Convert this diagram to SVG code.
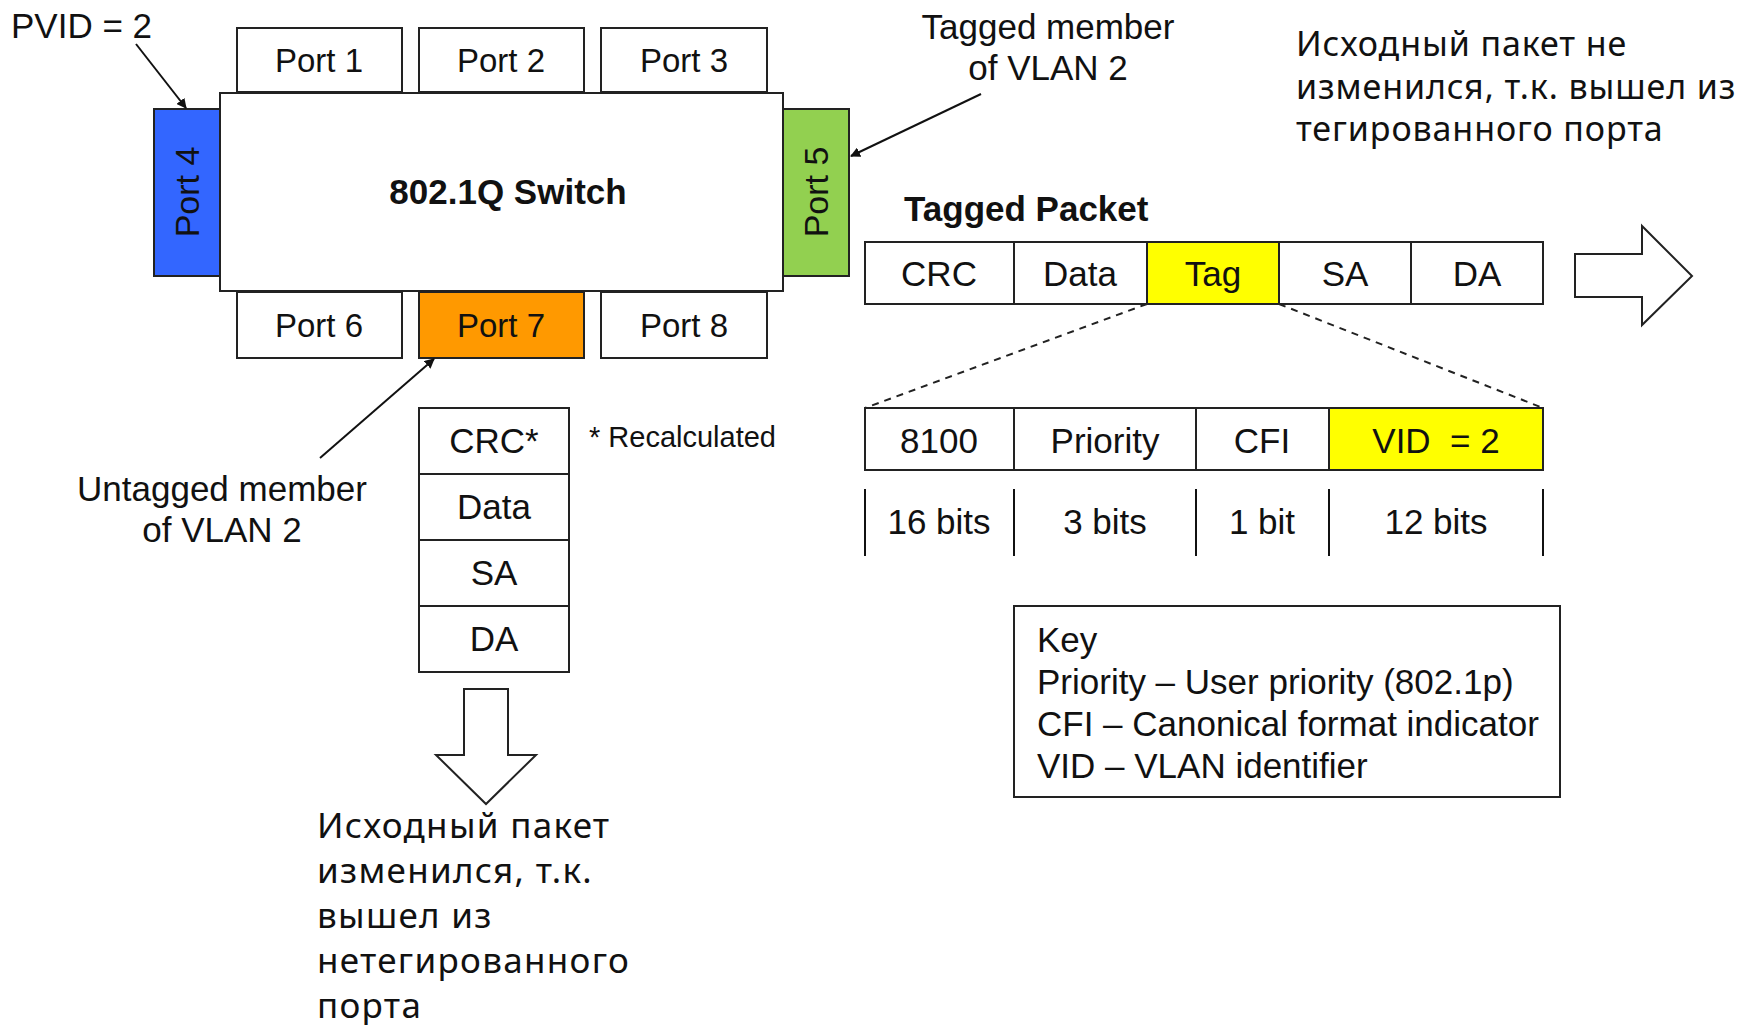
<svg xmlns="http://www.w3.org/2000/svg" width="1742" height="1025" viewBox="0 0 1742 1025">
  <style>
    .box { fill: #ffffff; stroke: #222222; stroke-width: 2; }
    .t { font-family: "Liberation Sans", Arial, sans-serif; font-size: 35px; fill: #111111; }
    .p { font-size: 33px; }
    .c { text-anchor: middle; }
    .b { font-weight: bold; }
    .ru { font-family: "Noto Sans", "Open Sans", sans-serif; fill: #111111; }
    .ru1 { font-size: 34px; letter-spacing: 0.9px; }
    .ru2 { font-size: 35px; letter-spacing: 1.3px; }
    .ln { stroke: #111111; stroke-width: 2; fill: none; }
    .dash { stroke: #222222; stroke-width: 2; stroke-dasharray: 7 6; fill: none; }
  </style>
  <defs>
    <marker id="ah" viewBox="0 0 10 10" refX="9" refY="5" markerWidth="10" markerHeight="10" markerUnits="userSpaceOnUse" orient="auto">
      <path d="M0,0 L10,5 L0,10 z" fill="#111111"/>
    </marker>
  </defs>

  <rect width="1742" height="1025" fill="#ffffff"/>

  <!-- Switch body and ports -->
  <g id="switch">
    <rect class="box" x="220" y="93" width="563" height="198"/>
    <text class="t c b" x="508" y="204">802.1Q Switch</text>
  </g>
  <g id="port1">
    <rect class="box" x="237" y="28" width="165" height="64"/>
    <text class="t p c" x="319" y="72">Port 1</text>
  </g>
  <g id="port2">
    <rect class="box" x="419" y="28" width="165" height="64"/>
    <text class="t p c" x="501" y="72">Port 2</text>
  </g>
  <g id="port3">
    <rect class="box" x="601" y="28" width="166" height="64"/>
    <text class="t p c" x="684" y="72">Port 3</text>
  </g>
  <g id="port4">
    <rect class="box" x="154" y="109" width="66" height="167" style="fill:#3366ff"/>
    <text class="t c" style="font-size:34px" transform="translate(199,192) rotate(-90)">Port 4</text>
  </g>
  <g id="port5">
    <rect class="box" x="783" y="109" width="66" height="167" style="fill:#92d050"/>
    <text class="t c" style="font-size:34px" transform="translate(828,192) rotate(-90)">Port 5</text>
  </g>
  <g id="port6">
    <rect class="box" x="237" y="292" width="165" height="66"/>
    <text class="t p c" x="319" y="337">Port 6</text>
  </g>
  <g id="port7">
    <rect class="box" x="419" y="292" width="165" height="66" style="fill:#ff9900"/>
    <text class="t p c" x="501" y="337">Port 7</text>
  </g>
  <g id="port8">
    <rect class="box" x="601" y="292" width="166" height="66"/>
    <text class="t p c" x="684" y="337">Port 8</text>
  </g>

  <!-- Callout labels -->
  <g id="pvid-label">
    <text class="t" x="11" y="38">PVID = 2</text>
  </g>
  <g id="tagged-member-label">
    <text class="t c" x="1048" y="39">Tagged member</text>
    <text class="t c" x="1048" y="80">of VLAN 2</text>
  </g>
  <g id="untagged-member-label">
    <text class="t c" x="222" y="501">Untagged member</text>
    <text class="t c" x="222" y="542">of VLAN 2</text>
  </g>

  <!-- Tagged packet -->
  <g id="tagged-packet">
    <text class="t b" x="904" y="221">Tagged Packet</text>
    <rect class="box" x="865" y="242" width="149" height="62"/>
    <rect class="box" x="1014" y="242" width="133" height="62"/>
    <rect class="box" x="1147" y="242" width="132" height="62" style="fill:#ffff00"/>
    <rect class="box" x="1279" y="242" width="132" height="62"/>
    <rect class="box" x="1411" y="242" width="132" height="62"/>
    <text class="t c" x="939" y="286">CRC</text>
    <text class="t c" x="1080" y="286">Data</text>
    <text class="t c" x="1213" y="286">Tag</text>
    <text class="t c" x="1345" y="286">SA</text>
    <text class="t c" x="1477" y="286">DA</text>
  </g>
  <g id="tagged-out-arrow">
    <path class="box" d="M1575,254 L1642,254 L1642,226 L1692,276 L1642,325 L1642,297 L1575,297 Z"/>
  </g>
  <g id="tagged-note">
    <text class="ru ru1" x="1296" y="56">Исходный пакет не</text>
    <text class="ru ru1" x="1296" y="99">изменился, т.к. вышел из</text>
    <text class="ru ru1" x="1296" y="141">тегированного порта</text>
  </g>

  <!-- Tag field breakdown -->
  <g id="tag-fields">
    <rect class="box" x="865" y="408" width="149" height="62"/>
    <rect class="box" x="1014" y="408" width="182" height="62"/>
    <rect class="box" x="1196" y="408" width="133" height="62"/>
    <rect class="box" x="1329" y="408" width="214" height="62" style="fill:#ffff00"/>
    <text class="t c" x="939" y="453">8100</text>
    <text class="t c" x="1105" y="453">Priority</text>
    <text class="t c" x="1262" y="453">CFI</text>
    <text class="t c" x="1436" y="453">VID&#160; = 2</text>
  </g>
  <g id="tag-bits">
    <line class="ln" x1="865" y1="489" x2="865" y2="556"/>
    <line class="ln" x1="1014" y1="489" x2="1014" y2="556"/>
    <line class="ln" x1="1196" y1="489" x2="1196" y2="556"/>
    <line class="ln" x1="1329" y1="489" x2="1329" y2="556"/>
    <line class="ln" x1="1543" y1="489" x2="1543" y2="556"/>
    <text class="t c" x="939" y="534">16 bits</text>
    <text class="t c" x="1105" y="534">3 bits</text>
    <text class="t c" x="1262" y="534">1 bit</text>
    <text class="t c" x="1436" y="534">12 bits</text>
  </g>

  <!-- Key -->
  <g id="key">
    <rect class="box" x="1014" y="606" width="546" height="191"/>
    <text class="t" x="1037" y="652">Key</text>
    <text class="t" x="1037" y="694">Priority – User priority (802.1p)</text>
    <text class="t" x="1037" y="736">CFI – Canonical format indicator</text>
    <text class="t" x="1037" y="778">VID – VLAN identifier</text>
  </g>

  <!-- Untagged packet -->
  <g id="untagged-packet">
    <rect class="box" x="419" y="408" width="150" height="66"/>
    <rect class="box" x="419" y="474" width="150" height="66"/>
    <rect class="box" x="419" y="540" width="150" height="66"/>
    <rect class="box" x="419" y="606" width="150" height="66"/>
    <text class="t c" x="494" y="453">CRC*</text>
    <text class="t c" x="494" y="519">Data</text>
    <text class="t c" x="494" y="585">SA</text>
    <text class="t c" x="494" y="651">DA</text>
    <text class="t" x="589" y="447" style="font-size:29px">* Recalculated</text>
  </g>
  <g id="untagged-out-arrow">
    <path class="box" d="M464,689 L508,689 L508,755 L536,755 L486,804 L436,755 L464,755 Z"/>
  </g>
  <g id="untagged-note">
    <text class="ru ru2" x="317" y="838">Исходный пакет</text>
    <text class="ru ru2" x="317" y="883">изменился, т.к.</text>
    <text class="ru ru2" x="317" y="928">вышел из</text>
    <text class="ru ru2" x="317" y="973">нетегированного</text>
    <text class="ru ru2" x="317" y="1018">порта</text>
  </g>

  <!-- Connectors -->
  <g id="connectors">
    <line class="ln" x1="136" y1="44" x2="186" y2="108" marker-end="url(#ah)"/>
    <line class="ln" x1="981" y1="94" x2="851" y2="156" marker-end="url(#ah)"/>
    <line class="ln" x1="320" y1="458" x2="434" y2="359" marker-end="url(#ah)"/>
    <line class="dash" x1="1147" y1="304" x2="865" y2="408"/>
    <line class="dash" x1="1279" y1="304" x2="1543" y2="408"/>
  </g>
</svg>
